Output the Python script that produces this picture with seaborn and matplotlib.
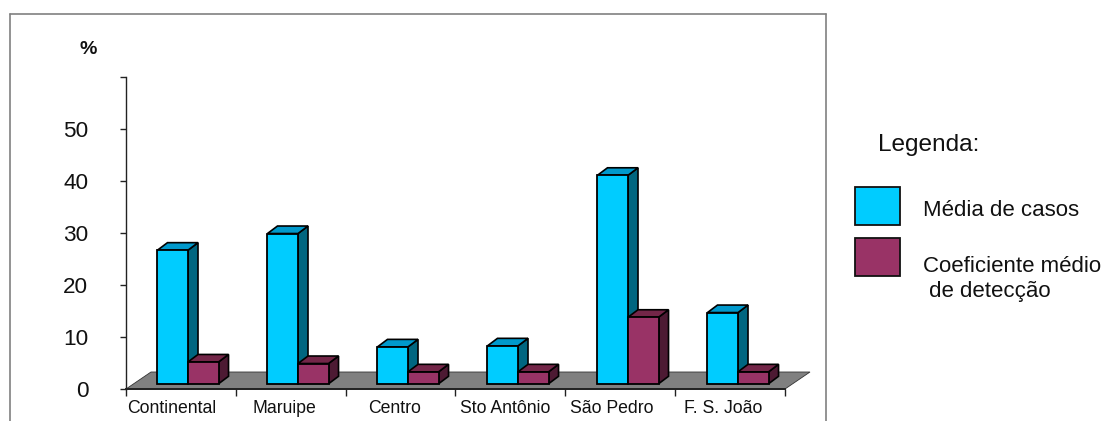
import matplotlib
matplotlib.use("Agg")
import matplotlib.pyplot as plt
from matplotlib.patches import Polygon, Rectangle
from matplotlib.lines import Line2D
import pandas as pd
import seaborn as sns

# Dados por região
regioes = ["Continental", "Maruipe", "Centro", "Sto Antônio", "São Pedro", "F. S. João"]
media_casos = [25.7, 28.9, 7.1, 7.3, 40.1, 13.7]
coef_deteccao = [4.2, 3.9, 2.3, 2.3, 12.8, 2.3]
serie_nomes = ["Média de casos", "Coeficiente médio\n de detecção"]
y_ticks = [0, 10, 20, 30, 40, 50]

FRENTE = ["#00CCFF", "#993366"]
TOPO = ["#0099CC", "#732648"]
LADO = ["#006680", "#4D1A33"]

W, H = 1104, 421
FONTE = ["Liberation Sans", "DejaVu Sans"]

sns.set_theme(style="white")
plt.rcParams["font.family"] = FONTE

fig = plt.figure(figsize=(W / 100, H / 100), dpi=100, facecolor="white")
ax = fig.add_axes([126 / W, (H - 389) / H, (785 - 126) / W, (389 - 77) / H])

df = pd.DataFrame({
    "regiao": regioes * 2,
    "valor": media_casos + coef_deteccao,
    "serie": [serie_nomes[0]] * 6 + [serie_nomes[1]] * 6,
})

# As barras partem um pouco acima do eixo, sobre o piso em perspectiva
sns.barplot(data=df, x="regiao", y="valor", hue="serie", order=regioes,
            palette=FRENTE, width=0.555, gap=0, bottom=1.0, saturation=1,
            edgecolor="black", linewidth=1.3, legend=False, ax=ax, zorder=4)

x_esq = -62 / 110
x_dir = x_esq + 659 / 110
ax.set_xlim(x_esq, x_dir)
ax.set_ylim(0, 60)
ax.set_xlabel("")
ax.set_ylabel("")

px_x = 659 / (x_dir - x_esq)
px_y = 312 / 60

# Piso cinza atrás das barras
piso_dx, piso_dy = 25 / px_x, 17 / px_y
ax.add_patch(Polygon([(x_esq, 0), (x_dir, 0), (x_dir + piso_dx, piso_dy), (x_esq + piso_dx, piso_dy)],
                     closed=True, facecolor="#808080", edgecolor="#333333", linewidth=0.6,
                     clip_on=False, zorder=1))

# Faces superior e lateral de cada barra
dx, dy = 10 / px_x, 7.5 / px_y
for n, barra in enumerate(ax.patches[:12]):
    s = n // 6
    x0, y0 = barra.get_x(), barra.get_y()
    x1, y1 = x0 + barra.get_width(), y0 + barra.get_height()
    barra.set_zorder(3 + 2 * s)
    ax.add_patch(Polygon([(x1, y0), (x1 + dx, y0 + dy), (x1 + dx, y1 + dy), (x1, y1)], closed=True,
                         facecolor=LADO[s], edgecolor="black", linewidth=1.2, clip_on=False, zorder=2 + 2 * s))
    ax.add_patch(Polygon([(x0, y1), (x1, y1), (x1 + dx, y1 + dy), (x0 + dx, y1 + dy)], closed=True,
                         facecolor=TOPO[s], edgecolor="black", linewidth=1.2, clip_on=False, zorder=2 + 2 * s))

sns.despine(ax=ax)
ax.spines["left"].set_color("#222222")
ax.spines["left"].set_linewidth(1.0)
ax.spines["bottom"].set_color("#222222")
ax.spines["bottom"].set_linewidth(1.4)
ax.spines["bottom"].set_zorder(6)

ax.set_yticks(y_ticks + [60], [str(v) for v in y_ticks] + [""])
ax.tick_params(axis="y", left=True, length=4, width=1, color="#222222", pad=23,
               labelsize=16.2, labelcolor="#111111")

# Rótulos das regiões ao centro de cada intervalo; marcas nos limites
desvio_px = [-16, -13.5, -13, -13, -16, -15]
ax.set_xticks([i + d / px_x for i, d in enumerate(desvio_px)], regioes)
ax.tick_params(axis="x", which="major", bottom=False, length=0, pad=8, labelsize=12.7, labelcolor="#111111")
ax.set_xticks([x_esq + k * 109.8 / px_x for k in range(7)], minor=True)
ax.tick_params(axis="x", which="minor", bottom=True, length=5, width=1, color="#222222")

fig.text(88 / W, 1 - 49.5 / H, "%", fontsize=14, fontweight="bold", ha="center", va="center", color="#111111")

# Moldura aberta na base
for xs, ys in [((10, 10), (14, 421)), ((10, 826), (14, 14)), ((826, 826), (14, 421))]:
    fig.add_artist(Line2D([x / W for x in xs], [1 - y / H for y in ys], color="#808080", linewidth=1.2))

# Legenda
fig.text(878 / W, 1 - 145 / H, "Legenda:", fontsize=17.6, ha="left", va="center", color="#111111")
for s, y_caixa in enumerate([187, 238]):
    fig.add_artist(Rectangle((855 / W, 1 - (y_caixa + 38) / H), 45 / W, 38 / H, transform=fig.transFigure,
                             facecolor=FRENTE[s], edgecolor="#111111", linewidth=1.3))
fig.text(923 / W, 1 - 211 / H, serie_nomes[0], fontsize=16, ha="left", va="center", color="#111111")
fig.text(923 / W, 1 - 279 / H, serie_nomes[1], fontsize=16, ha="left", va="center", color="#111111",
         linespacing=1.28)

fig.savefig("out.png", dpi=100, facecolor="white")
